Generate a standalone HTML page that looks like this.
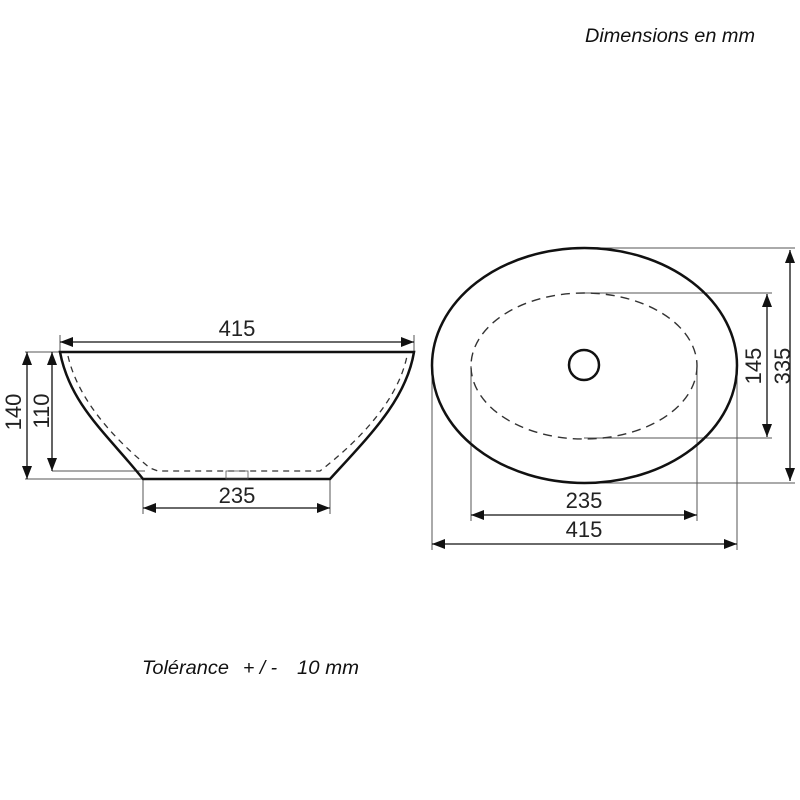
<!DOCTYPE html>
<html><head><meta charset="utf-8"><style>
html,body{margin:0;padding:0;background:#fff;}
svg{display:block;}
.n{font-family:"Liberation Sans Narrow","Liberation Sans",sans-serif;font-size:22px;fill:#222;}
.it{font-family:"Liberation Sans",sans-serif;font-style:italic;font-size:19.5px;fill:#111;}
</style></head><body>
<svg width="800" height="800" viewBox="0 0 800 800" xmlns="http://www.w3.org/2000/svg">
<defs>
<marker id="a" viewBox="0 0 13 10" refX="13" refY="5" markerWidth="13" markerHeight="10" markerUnits="userSpaceOnUse" orient="auto-start-reverse">
<path d="M0,0 L13,5 L0,10 Z" fill="#111"/></marker>
</defs>
<text class="it" x="585" y="42" textLength="170" lengthAdjust="spacingAndGlyphs">Dimensions en mm</text>
<text class="it" x="142" y="674" textLength="87" lengthAdjust="spacingAndGlyphs">Tolérance</text>
<text class="it" x="243" y="674">+ / -</text>
<text class="it" x="297" y="674" textLength="62" lengthAdjust="spacingAndGlyphs">10 mm</text>

<!-- Side view -->
<g stroke="#555" stroke-width="1" fill="none">
<line x1="25" y1="352" x2="60" y2="352"/>
<line x1="25" y1="479" x2="143" y2="479"/>
<line x1="52" y1="471" x2="145" y2="471"/>
<line x1="60" y1="335" x2="60" y2="352"/>
<line x1="414" y1="335" x2="414" y2="352"/>
<line x1="143" y1="479" x2="143" y2="514"/>
<line x1="330" y1="479" x2="330" y2="514"/>
</g>
<g stroke="#111" stroke-width="1.3" fill="none" marker-start="url(#a)" marker-end="url(#a)">
<line x1="60" y1="342" x2="414" y2="342"/>
<line x1="143" y1="508" x2="330" y2="508"/>
<line x1="27" y1="352" x2="27" y2="479"/>
<line x1="52" y1="352" x2="52" y2="471"/>
</g>
<path d="M60,352 L414,352 C406,400 370,435 330,479 L143,479 C108,435 70,405 60,352 Z" fill="none" stroke="#111" stroke-width="2.5"/>
<path d="M68,356 C78,400 115,440 150,468 L158,471 L320,471 C360,440 398,400 407,356" fill="none" stroke="#333" stroke-width="1.3" stroke-dasharray="6,5"/>
<rect x="226" y="471" width="22" height="8" fill="none" stroke="#555" stroke-width="0.8"/>
<text class="n" x="237" y="336" text-anchor="middle">415</text>
<text class="n" x="237" y="503" text-anchor="middle">235</text>
<text class="n" transform="translate(21,412) rotate(-90)" text-anchor="middle">140</text>
<text class="n" transform="translate(49,411) rotate(-90)" text-anchor="middle">110</text>

<!-- Top view -->
<g stroke="#555" stroke-width="1" fill="none">
<line x1="584" y1="248" x2="795" y2="248"/>
<line x1="584" y1="483" x2="795" y2="483"/>
<line x1="584" y1="293" x2="772" y2="293"/>
<line x1="584" y1="438" x2="772" y2="438"/>
<line x1="432" y1="366" x2="432" y2="550"/>
<line x1="737" y1="366" x2="737" y2="550"/>
<line x1="471" y1="366" x2="471" y2="521"/>
<line x1="697" y1="366" x2="697" y2="521"/>
</g>
<g stroke="#111" stroke-width="1.3" fill="none" marker-start="url(#a)" marker-end="url(#a)">
<line x1="790" y1="250" x2="790" y2="481"/>
<line x1="767" y1="294" x2="767" y2="437"/>
<line x1="471" y1="515" x2="697" y2="515"/>
<line x1="432" y1="544" x2="737" y2="544"/>
</g>
<ellipse cx="584.5" cy="365.5" rx="152.5" ry="117.5" fill="none" stroke="#111" stroke-width="2.5"/>
<ellipse cx="584" cy="366" rx="113" ry="73" fill="none" stroke="#333" stroke-width="1.4" stroke-dasharray="9,6"/>
<circle cx="584" cy="365" r="15" fill="none" stroke="#111" stroke-width="2.5"/>
<text class="n" x="584" y="508" text-anchor="middle">235</text>
<text class="n" x="584" y="537" text-anchor="middle">415</text>
<text class="n" transform="translate(761,366) rotate(-90)" text-anchor="middle">145</text>
<text class="n" transform="translate(790,366) rotate(-90)" text-anchor="middle">335</text>
</svg>
</body></html>
